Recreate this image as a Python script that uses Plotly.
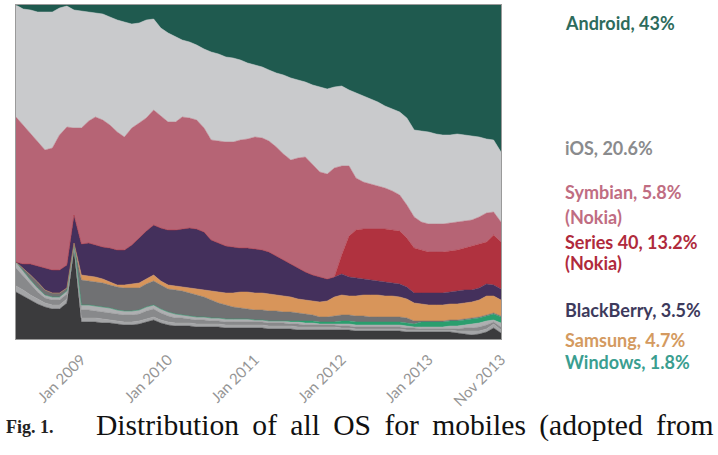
import pandas as pd
import plotly.graph_objects as go

months = pd.date_range("2008-04-01", periods=68, freq="MS")

android = [0, 1.2, 1.5, 2.1, 2.1, 2.1, 0.9, 0.3, 1.5, 1.8,
           2.1, 2.4, 2.7, 3.6, 4.5, 5.1, 5.7, 5.4, 4.5, 4.2,
           6.9, 8.4, 9.6, 10.5, 11.1, 12.0, 13.2, 14.1, 14.7, 15.6,
           15.9, 16.5, 17.4, 18.0, 18.6, 19.5, 20.4, 21.0, 21.9, 22.5,
           23.1, 24.0, 24.6, 25.2, 24.6, 24.3, 25.5, 26.4, 27.3, 28.2,
           29.1, 30.3, 31.2, 32.1, 33.9, 37.5, 37.8, 38.1, 38.7, 39.0,
           39.0, 38.7, 39.0, 39.3, 39.6, 40.2, 40.5, 44.1]
ios = [33.6, 34.8, 36.9, 38.7, 41.4, 40.8, 38.1, 36.3, 35.4, 35.1,
       32.7, 31.2, 31.8, 32.4, 33.6, 34.5, 31.2, 30.0, 29.4, 27.3,
       26.4, 26.7, 25.5, 23.1, 22.8, 22.5, 23.7, 26.4, 26.1, 25.5,
       25.2, 24.0, 22.8, 21.6, 21.3, 21.3, 22.2, 23.7, 24.6, 23.4,
       22.5, 24.0, 25.5, 25.5, 24.3, 24.0, 22.8, 25.5, 25.8, 25.5,
       25.2, 24.6, 24.6, 24.9, 26.1, 26.1, 27.3, 27.6, 27.0, 26.7,
       26.4, 26.4, 25.8, 25.2, 24.0, 22.2, 21.6, 21.0]
symbian = [43.5, 41.7, 39.3, 37.5, 35.4, 36.6, 40.5, 41.4, 26.1, 34.8,
           36.6, 38.4, 38.1, 36.9, 35.4, 33.9, 35.1, 34.5, 33.9, 34.5,
           33.6, 32.4, 32.4, 33.6, 33.0, 32.7, 31.2, 30.0, 30.6, 31.2,
           31.5, 32.4, 32.7, 33.6, 33.6, 33.3, 32.7, 31.8, 31.2, 33.0,
           34.5, 33.0, 31.5, 31.5, 32.7, 26.7, 21.0, 15.6, 14.1, 13.5,
           12.9, 12.3, 11.7, 10.8, 9.9, 9.3, 8.4, 8.4, 8.4, 8.4,
           8.4, 8.4, 8.1, 7.8, 8.1, 8.7, 6.9, 6.0]
series40 = [0, 0, 0, 0, 0, 0, 0, 0, 0, 0,
            0, 0, 0, 0, 0, 0, 0, 0, 0, 0,
            0, 0, 0, 0, 0, 0, 0, 0, 0, 0,
            0, 0, 0, 0, 0, 0, 0, 0, 0, 0,
            0, 0, 0, 0, 0, 5.7, 12.3, 14.4, 15.0, 15.3,
            15.6, 15.9, 15.9, 15.9, 14.7, 13.5, 12.9, 12.3, 12.3, 12.3,
            12.3, 12.3, 12.6, 13.2, 13.2, 12.6, 15.0, 14.1]
blackberry = [0, 1.2, 3.3, 4.8, 6.6, 6.9, 6.9, 6.9, 8.4, 9.3,
              9.9, 9.6, 9.6, 10.2, 10.5, 10.5, 11.7, 13.5, 14.4, 15.0,
              15.9, 16.5, 16.8, 17.4, 18.0, 18.0, 17.4, 15.3, 14.7, 14.1,
              13.8, 13.2, 13.2, 13.2, 12.9, 12.6, 11.7, 10.8, 9.9, 9.3,
              8.4, 7.8, 7.5, 6.6, 6.0, 6.3, 5.7, 5.4, 4.8, 4.5,
              4.2, 4.2, 3.9, 3.9, 3.6, 3.0, 3.3, 3.6, 3.6, 3.6,
              3.6, 3.9, 3.9, 3.6, 3.6, 3.6, 3.3, 3.3]
samsung = [0, 0, 0, 0, 0, 0, 0, 0, 0, 1.5,
           1.5, 1.5, 1.2, 0.9, 0.6, 0.9, 1.2, 1.5, 1.5, 1.8,
           1.2, 1.2, 1.2, 1.2, 1.5, 1.8, 2.1, 2.7, 3.3, 3.6,
           4.2, 4.8, 5.1, 5.1, 5.1, 5.1, 4.8, 4.8, 4.5, 4.2,
           4.2, 4.2, 4.5, 4.8, 5.7, 6.0, 5.7, 6.0, 6.3, 6.6,
           6.6, 6.3, 6.3, 6.0, 5.7, 5.4, 5.1, 4.8, 4.8, 4.8,
           4.8, 4.8, 4.8, 4.8, 5.1, 5.7, 5.1, 4.8]
other_gray = [0, 0.9, 1.5, 1.8, 1.5, 1.2, 1.2, 0.9, 0, 7.5,
              7.2, 7.2, 7.2, 6.9, 6.9, 6.9, 6.9, 6.6, 6.9, 7.2,
              7.2, 6.9, 7.2, 7.2, 6.9, 6.6, 6.0, 5.4, 4.5, 4.2,
              3.6, 3.3, 3.0, 3.0, 3.0, 3.0, 3.0, 2.7, 2.7, 2.4,
              2.1, 1.8, 1.5, 1.5, 1.8, 1.8, 1.8, 1.8, 1.8, 1.5,
              1.5, 1.5, 1.5, 1.5, 1.5, 0.9, 0.3, 0.3, 0.3, 0.3,
              0.3, 0.3, 0.3, 0.3, 0.3, 0.3, 0.3, 0.3]
windows = [0, 0, 0, 0, 0, 0, 0, 0, 0, 0,
           0, 0, 0, 0, 0, 0, 0, 0, 0, 0,
           0, 0, 0, 0, 0, 0, 0, 0, 0, 0,
           0, 0, 0, 0, 0, 0, 0, 0, 0.3, 0.3,
           0.6, 0.6, 0.6, 0.6, 0.6, 0.9, 0.9, 0.9, 0.9, 0.9,
           0.9, 0.9, 0.9, 0.9, 0.9, 0.9, 1.5, 1.5, 1.5, 1.5,
           1.5, 1.5, 1.5, 1.5, 1.5, 1.5, 1.8, 1.8]
minor_a = [1.8, 1.5, 1.5, 1.2, 0.9, 0.9, 0.9, 0.9, 0.6, 1.5,
           1.5, 1.5, 1.5, 1.5, 1.2, 1.2, 1.2, 1.2, 1.2, 1.2,
           1.2, 1.2, 1.2, 0.9, 0.9, 0.9, 0.9, 0.9, 0.9, 0.9,
           0.9, 0.9, 0.9, 0.6, 0.6, 0.6, 0.6, 0.6, 0.6, 0.6,
           0.6, 0.6, 0.3, 0.3, 0.3, 0.6, 0.6, 0.6, 0.6, 0.6,
           0.6, 0.6, 0.6, 0.6, 0.6, 0.3, 0.6, 0.6, 0.6, 0.6,
           0.9, 0.9, 0.9, 1.2, 1.2, 1.2, 0.6, 1.2]
minor_b = [5.4, 4.2, 3.0, 2.1, 1.5, 1.5, 1.5, 1.5, 0.3, 2.4,
           2.4, 2.1, 2.1, 2.1, 2.1, 2.1, 2.1, 2.1, 2.4, 2.4,
           2.1, 1.8, 1.5, 1.5, 1.2, 1.2, 1.2, 0.9, 0.9, 0.9,
           0.9, 0.9, 0.9, 0.9, 0.9, 0.9, 0.9, 0.9, 0.6, 0.9,
           0.6, 0.6, 0.6, 0.6, 0.6, 0.6, 0.6, 0.6, 0.6, 0.6,
           0.6, 0.6, 0.6, 0.6, 0.6, 0.6, 0.3, 0.3, 0.3, 0.3,
           0.3, 0.6, 0.9, 0.9, 1.2, 1.2, 0.6, 0.9]
minor_c = [1.8, 1.8, 1.5, 1.5, 1.2, 1.2, 1.2, 1.2, 1.2, 1.2,
           1.2, 1.2, 1.2, 0.9, 0.9, 0.9, 0.9, 0.9, 0.9, 0.9,
           0.9, 0.9, 0.9, 0.9, 0.9, 0.9, 0.9, 0.9, 0.9, 0.9,
           0.9, 0.9, 0.9, 0.9, 0.9, 0.9, 0.9, 0.9, 0.9, 0.9,
           0.9, 0.9, 0.9, 0.9, 0.9, 0.6, 0.6, 0.6, 0.6, 0.6,
           0.6, 0.6, 0.6, 0.6, 0.6, 0.6, 0.6, 0.6, 0.6, 0.6,
           0.6, 0.6, 0.9, 1.2, 0.9, 0.9, 1.2, 0.9]
unknown = [14.1, 12.9, 11.7, 10.5, 9.6, 9.0, 9.0, 10.8, 26.7, 5.1,
           5.1, 5.1, 4.8, 4.8, 4.5, 4.2, 4.2, 4.5, 5.1, 5.7,
           4.8, 4.2, 3.9, 3.9, 3.9, 3.6, 3.6, 3.6, 3.6, 3.3,
           3.3, 3.3, 3.3, 3.3, 3.3, 3.0, 3.0, 3.0, 3.0, 2.7,
           2.7, 2.7, 2.7, 2.7, 2.7, 2.7, 2.7, 2.4, 2.4, 2.4,
           2.4, 2.4, 2.4, 2.4, 2.1, 2.1, 2.1, 2.1, 2.1, 2.1,
           2.1, 1.8, 1.5, 1.2, 1.5, 2.1, 3.3, 1.8]

tick_dates = ["2009-01-01", "2010-01-01", "2011-01-01", "2012-01-01", "2013-01-01", "2013-11-01"]
tick_labels = ["Jan 2009", "Jan 2010", "Jan 2011", "Jan 2012", "Jan 2013", "Nov 2013"]

# bottom to top
layers = [
    ("Unknown", unknown, "#3b3b3d"),
    ("Minor C", minor_c, "#a4a5a7"),
    ("Minor B", minor_b, "#88898b"),
    ("Minor A", minor_a, "#aeafb1"),
    ("Windows", windows, "#2a9e6e"),
    ("Other", other_gray, "#707173"),
    ("Samsung", samsung, "#d8955a"),
    ("BlackBerry", blackberry, "#44305c"),
    ("Series 40", series40, "#b0323f"),
    ("Symbian", symbian, "#b66475"),
    ("iOS", ios, "#c9cacc"),
    ("Android", android, "#1f5a4f"),
]

fig = go.Figure()
for name, vals, col in layers:
    fig.add_trace(go.Scatter(
        x=months, y=vals, name=name, mode="lines",
        stackgroup="one", groupnorm="percent",
        line=dict(width=0.5, color=col), fillcolor=col,
        hoverinfo="skip", showlegend=False,
    ))

W, H = 718, 455
L, R, T, B = 16, 501, 5, 339


def px(x):
    return (x - L) / (R - L)


def py(y):
    return (B - y) / (B - T)


labels = [
    ("Android, 43%", 23, "#2d6b5c"),
    ("iOS, 20.6%", 148, "#8a8b8d"),
    ("Symbian, 5.8%", 192, "#c06d82"),
    ("(Nokia)", 217, "#c06d82"),
    ("Series 40, 13.2%", 242, "#b02a3c"),
    ("(Nokia)", 263, "#b02a3c"),
    ("BlackBerry, 3.5%", 310, "#3d3a5c"),
    ("Samsung, 4.7%", 340, "#d49a60"),
    ("Windows, 1.8%", 362, "#3a9e90"),
]
annotations = []
for txt, yy, col in labels:
    annotations.append(dict(
        text=txt, x=px(563), y=py(yy), xref="paper", yref="paper",
        xanchor="left", yanchor="middle", showarrow=False,
        font=dict(family="Lato", size=18, color=col, weight="bold"),
    ))
annotations.append(dict(
    text="Fig. 1.", x=px(4), y=py(427), xref="paper", yref="paper",
    xanchor="left", yanchor="middle", showarrow=False,
    font=dict(family="Liberation Serif", size=18, color="#222", weight="bold"),
))
caption = "Distribution of all OS for mobiles (adopted from"
annotations.append(dict(
    text=caption.replace(" ", " \u2009"),
    x=px(716), y=py(426), xref="paper", yref="paper",
    xanchor="right", yanchor="middle", showarrow=False,
    font=dict(family="Liberation Serif", size=29.6, color="#111"),
))

fig.update_layout(
    width=W, height=H,
    margin=dict(l=L, r=W - R, t=T, b=H - B),
    paper_bgcolor="white", plot_bgcolor="white",
    annotations=annotations,
    xaxis=dict(
        range=[months[0], months[-1]], tickvals=tick_dates, ticktext=tick_labels,
        tickangle=-45, ticks="", showgrid=False, zeroline=False,
        showline=True, mirror=True, linecolor="#9a9a9a", linewidth=1,
        tickfont=dict(family="Lato", size=15, color="#959595"),
        ticklabelstandoff=5,
    ),
    yaxis=dict(
        range=[0, 100], showticklabels=False, ticks="", showgrid=False,
        zeroline=False, showline=True, mirror=True, linecolor="#9a9a9a", linewidth=1,
    ),
)

fig.write_html("out.html")
